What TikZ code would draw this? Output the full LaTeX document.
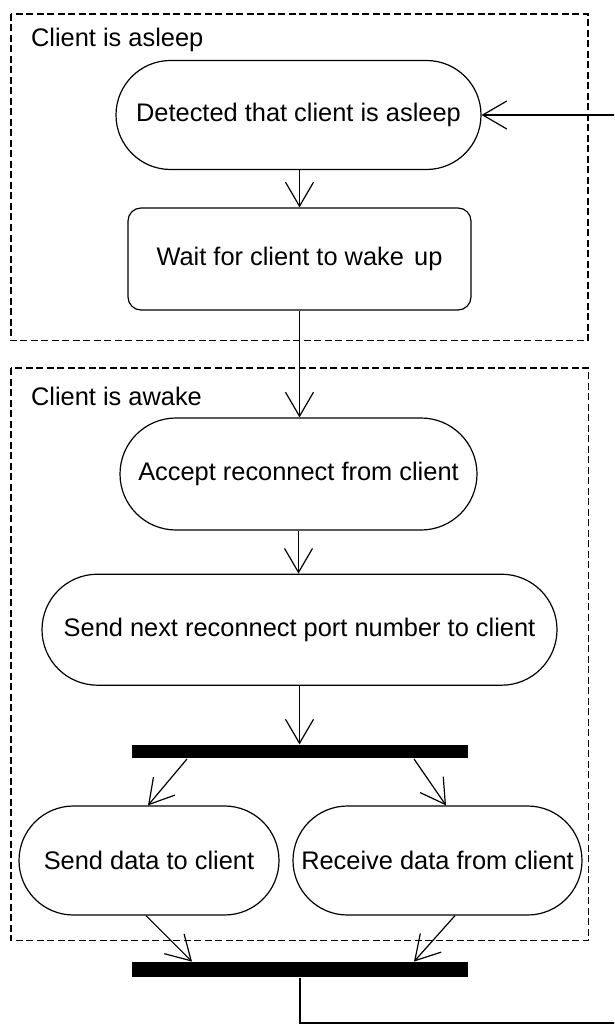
\documentclass[tikz,border=0pt]{standalone}
\usepackage{fontspec}
\setmainfont{Liberation Sans}
\usetikzlibrary{arrows.meta,shapes.misc}
\begin{document}
\begin{tikzpicture}[x=1pt,y=-1pt,
  font=\fontsize{25.4pt}{30pt}\selectfont,
  line width=1.2pt,
  activity/.style={draw, rounded rectangle, inner sep=0pt, align=center},
  waitbox/.style={draw, rectangle, rounded corners=13pt, inner sep=0pt, align=center},
  bar/.style={fill=black, draw=none, inner sep=0pt, minimum width=336.5pt},
  region/.style={draw, dashed, dash pattern=on 7pt off 3.5pt, line width=1.3pt},
  arr/.style={-{Straight Barb[length=24pt,width=28pt]}},
  flow/.style={line width=1.2pt}]
\useasboundingbox (0,0) rectangle (614,1024);
\clip (0,0) rectangle (614,1024);

% swimlane-like regions
\draw[region] (11,14) rectangle (588,340.7);
\node[anchor=base west, inner sep=0pt] (lblasleep) at (30.5,46.7) {Client is asleep};
\draw[region] (11,368) rectangle (588.5,940.7);
\node[anchor=base west, inner sep=0pt] (lblawake) at (30.5,405) {Client is awake};

% activities
\node[activity, minimum width=365pt, minimum height=109pt] (detect) at (298.5,115) {Detected that client is asleep};
\node[waitbox, minimum width=343pt, minimum height=102pt] (wait) at (299.5,259) {Wait for client to wake\hspace{0.4em}up};
\node[activity, minimum width=357pt, minimum height=112pt] (accept) at (298.5,474) {Accept reconnect from client};
\node[activity, minimum width=515pt, minimum height=111pt] (sendport) at (299.5,629.7) {Send next reconnect port number to client};
\node[bar, minimum height=13.3pt] (fork) at (300,751.7) {};
\node[activity, minimum width=260pt, minimum height=109pt] (senddata) at (149,860.5) {Send data to client};
\node[activity, minimum width=289pt, minimum height=109pt] (recvdata) at (437.5,860.5) {Receive data from client};
\node[bar, minimum height=15pt] (join) at (300,969.7) {};

% loop-back corner points
\coordinate (loopA) at (300,1023);
\coordinate (loopB) at (630,1023);
\coordinate (loopC) at (630,115);

% transitions
\draw[arr] (detect.south -| wait.north) -- (wait.north);
\draw[arr] (wait.south) -- (accept.north -| wait.south);
\draw[arr] (accept.south) -- (sendport.north -| accept.south);
\draw[arr] (sendport.south) -- (fork.north -| sendport.south);
\draw[arr] ([xshift=-113pt]fork.south) -- ([xshift=-1pt]senddata.north);
\draw[arr] ([xshift=114pt]fork.south) -- ([xshift=8.5pt]recvdata.north);
\draw[arr] ([xshift=-3pt]senddata.south) -- ([xshift=-108pt]join.north);
\draw[arr] ([xshift=17.5pt]recvdata.south) -- ([xshift=114pt]join.north);
\draw[arr] (join.south) -- (loopA) -- (loopB) -- (loopC) -- (detect.east);
\end{tikzpicture}
\end{document}
